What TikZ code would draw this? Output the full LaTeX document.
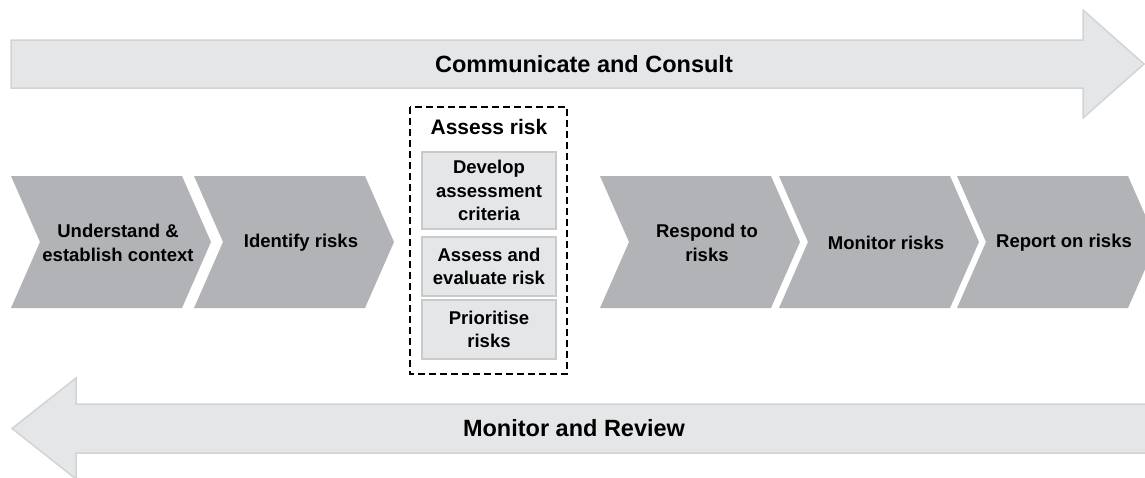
\documentclass[tikz,border=0pt]{standalone}
\usepackage{fontspec}
\setmainfont{Liberation Sans}

\definecolor{bandgrey}{HTML}{E5E6E8}
\definecolor{bandline}{HTML}{D2D3D5}
\definecolor{stepgrey}{HTML}{B1B3B6}
\definecolor{boxline}{HTML}{C9CACC}

% one chevron of the process row, given its left edge
\newcommand{\stepshape}[1]{\fill[chevron] (#1, 176) -- ++(171, 0) -- ++(29, 66) -- ++(-29, 66) -- ++(-171, 0) -- ++(29, -66) -- cycle;}

\begin{document}
\begin{tikzpicture}[%
    x = 1pt, y = -1pt,
    band/.style = {fill = bandgrey, draw = bandline, line width = 1.5pt, line join = miter},
    chevron/.style = {fill = stepgrey},
    label/.style = {align = center, inner sep = 0pt, font = \fontsize{18.5}{23.5}\selectfont\bfseries},
    bandlabel/.style = {inner sep = 0pt, font = \fontsize{23.5}{28}\selectfont\bfseries},
    substep/.style = {label, draw = boxline, fill = bandgrey, line width = 1.5pt, minimum width = 134pt},
    group/.style = {draw = black, line width = 1.8pt, dash pattern = on 7pt off 4pt}]

    \useasboundingbox (0, 0) rectangle (1145, 477);

    % bands
    \draw[band] (11, 40) -- (1083, 40) -- (1083, 10) -- (1144, 64) -- (1083, 118) -- (1083, 88) -- (11, 88) -- cycle;
    \draw[band] (1150, 404) -- (76, 404) -- (76, 378) -- (12, 428.5) -- (76, 479) -- (76, 453) -- (1150, 453) -- cycle;
    \node[bandlabel] (consult) at (584, 64) {Communicate and Consult};
    \node[bandlabel] (review) at (574, 428.5) {Monitor and Review};

    % process row
    \stepshape{11}
    \stepshape{194}
    \stepshape{600}
    \stepshape{779}
    \stepshape{957}
    \node[label] (context) at (118, 243) {Understand \&\\establish context};
    \node[label] (identify) at (301, 243) {Identify risks};
    \node[label] (respond) at (707, 243) {Respond to\\risks};
    \node[label] (monitor) at (886, 243) {Monitor risks};
    \node[label] (report) at (1064, 243) {Report on risks};

    % assess risk group
    \draw[group] (410, 107) rectangle (567, 374);
    \node[label, font = \fontsize{21}{25}\selectfont\bfseries] (assess) at (489, 127) {Assess risk};
    \node[substep, minimum height = 77pt] (criteria) at (489, 190.5) {Develop\\assessment\\criteria};
    \node[substep, minimum height = 59pt] (evaluate) at (489, 266.5) {Assess and\\evaluate risk};
    \node[substep, minimum height = 59pt] (prioritise) at (489, 329.5) {Prioritise\\risks};
\end{tikzpicture}
\end{document}
